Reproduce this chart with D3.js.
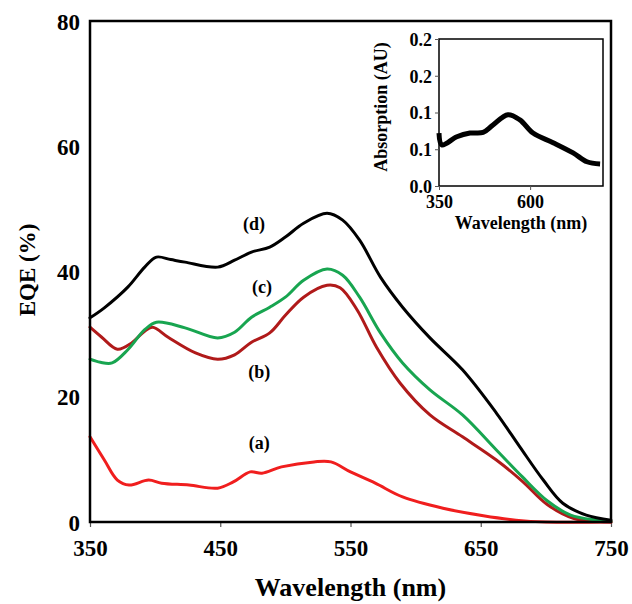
<!DOCTYPE html>
<html lang="en">
<head>
<meta charset="utf-8">
<title>EQE spectra</title>
<script src="https://d3js.org/d3.v7.min.js"></script>
<style type="text/css">
body { margin: 0; background: #fff; }
text { font-family: "Liberation Serif", "Times New Roman", serif; font-weight: bold; fill: #000; }
.curve { fill: none; stroke-width: 3; stroke-linejoin: round; stroke-linecap: round; }
</style>
</head>
<body>
<script type="text/javascript">

// EQE curves (wavelength in nm, EQE in %)
var wlA = [350, 361, 371, 380, 395, 405, 426, 448, 460, 473, 482, 497, 522, 535, 550, 569, 590, 621, 652, 677, 700, 750];
var eqeA = [13.6, 9.9, 6.7, 5.9, 6.7, 6.2, 5.9, 5.4, 6.4, 8.0, 7.8, 8.8, 9.6, 9.6, 8.0, 6.2, 4.0, 2.2, 1.0, 0.3, 0, 0];

var wlB = [350, 359, 371, 382, 391, 398, 410, 431, 448, 461, 474, 488, 500, 514, 532, 542, 555, 570, 588, 611, 636, 662, 682, 701, 721, 740, 750];
var eqeB = [31.1, 29.5, 27.6, 28.6, 30.3, 31.1, 29.5, 27.0, 26.0, 26.7, 28.7, 30.2, 33.0, 35.9, 37.8, 37.4, 33.9, 27.9, 22.2, 17.1, 13.6, 9.9, 6.5, 2.8, 0.6, 0.1, 0];

var wlC = [350, 358, 367, 379, 392, 401, 423, 448, 461, 474, 488, 500, 514, 532, 544, 557, 573, 590, 611, 636, 662, 682, 701, 719, 739, 750];
var eqeC = [26.0, 25.5, 25.4, 27.5, 30.7, 31.9, 31.0, 29.4, 30.3, 32.7, 34.3, 35.9, 38.6, 40.4, 39.4, 35.9, 30.2, 25.4, 21.1, 17.1, 11.5, 7.2, 3.4, 1.1, 0.3, 0.1];

var wlD = [350, 361, 379, 392, 401, 412, 423, 448, 461, 474, 488, 500, 514, 532, 544, 557, 573, 590, 611, 636, 662, 680, 698, 713, 731, 750];
var eqeD = [32.6, 34.2, 37.5, 40.7, 42.3, 41.9, 41.5, 40.7, 41.8, 43.1, 43.9, 45.5, 47.7, 49.3, 48.2, 45.0, 39.1, 34.3, 29.4, 24.3, 17.4, 12.0, 6.7, 3.0, 1.1, 0.3];

// inset absorption spectrum
var wlAbs = [350, 358, 399, 435, 471, 498, 539, 572, 608, 663, 718, 756, 792];
var absVal = [0.072, 0.056, 0.067, 0.072, 0.073, 0.083, 0.097, 0.090, 0.072, 0.059, 0.045, 0.033, 0.030];

var seriesNames = ["(a)", "(b)", "(c)", "(d)"];
var seriesColors = ["#f01e1e", "#b01a1a", "#18a550", "#000000"];

var xTicks = [350, 450, 550, 650, 750];
var yTicks = [0, 20, 40, 60, 80];
var insetXTicks = [350, 600];
var insetYTicks = [0, 0.05, 0.1, 0.15, 0.2];
var insetYLabels = ["0.0", "0.1", "0.1", "0.2", "0.2"];

var W = 632, H = 604;
var svg = d3.select("body").append("svg")
    .attr("width", W)
    .attr("height", H);

// main plot
var x = d3.scaleLinear().domain([350, 750]).range([90, 611]);
var y = d3.scaleLinear().domain([0, 80]).range([522, 21]);

var xAxis = d3.axisBottom(x).tickValues(xTicks).tickSize(5).tickFormat(d3.format("d"));
var yAxis = d3.axisLeft(y).tickValues(yTicks).tickSize(0).tickFormat(d3.format("d"));

var gx = svg.append("g").attr("transform", "translate(0,522)").call(xAxis);
gx.select(".domain").remove();
gx.selectAll("line").attr("stroke", "#555").attr("stroke-width", 1.2);
gx.selectAll("text").attr("font-size", 23).attr("dy", "1.15em").attr("fill", "#000")
    .style("font-family", "Liberation Serif").style("font-weight", "bold");

var gy = svg.append("g").attr("transform", "translate(90,0)").call(yAxis);
gy.select(".domain").remove();
gy.selectAll("text").attr("font-size", 23).attr("x", -10).attr("dy", "0.35em").attr("fill", "#000")
    .style("font-family", "Liberation Serif").style("font-weight", "bold");

var series = [
    { wl: wlA, v: eqeA },
    { wl: wlB, v: eqeB },
    { wl: wlC, v: eqeC },
    { wl: wlD, v: eqeD }
];

var line = d3.line()
    .x(function(d) { return x(d[0]); })
    .y(function(d) { return y(d[1]); })
    .curve(d3.curveCatmullRom.alpha(0.5));

svg.selectAll(".curve")
    .data(series)
    .enter()
    .append("path")
    .attr("class", "curve")
    .attr("stroke", function(d, i) { return seriesColors[i]; })
    .attr("d", function(d) { return line(d3.zip(d.wl, d.v)); });

// frame
svg.append("rect")
    .attr("x", x(350)).attr("y", y(80))
    .attr("width", x(750) - x(350)).attr("height", y(0) - y(80))
    .attr("fill", "none").attr("stroke", "#000").attr("stroke-width", 2.5);

// series labels
var labelPos = [[480, 12.6], [480, 24.0], [482, 37.6], [476, 47.7]];
svg.selectAll(".slabel")
    .data(seriesNames)
    .enter()
    .append("text")
    .attr("class", "slabel")
    .attr("x", function(d, i) { return x(labelPos[i][0]); })
    .attr("y", function(d, i) { return y(labelPos[i][1]); })
    .attr("text-anchor", "middle")
    .attr("dy", "0.35em")
    .attr("font-size", 18)
    .text(function(d) { return d; });

// axis titles
svg.append("text")
    .attr("x", (x(350) + x(750)) / 2).attr("y", 596)
    .attr("text-anchor", "middle")
    .attr("font-size", 26)
    .text("Wavelength (nm)");

svg.append("text")
    .attr("transform", "translate(27,270) rotate(-90)")
    .attr("text-anchor", "middle").attr("dy", "0.35em")
    .attr("font-size", 23)
    .text("EQE (%)");

// inset
var ix = d3.scaleLinear().domain([350, 800]).range([439, 603]);
var iy = d3.scaleLinear().domain([0, 0.2]).range([186, 39]);

var inset = svg.append("g");

inset.append("rect")
    .attr("x", ix(350)).attr("y", iy(0.2))
    .attr("width", ix(800) - ix(350)).attr("height", iy(0) - iy(0.2))
    .attr("fill", "#fff").attr("stroke", "#000").attr("stroke-width", 1.5);

var igx = inset.append("g").attr("transform", "translate(0," + iy(0) + ")")
    .call(d3.axisBottom(ix).tickValues(insetXTicks).tickSize(4).tickFormat(d3.format("d")));
igx.select(".domain").remove();
igx.selectAll("line").attr("stroke", "#555");
igx.selectAll("text").attr("font-size", 18).attr("dy", "0.85em").attr("fill", "#000")
    .style("font-family", "Liberation Serif").style("font-weight", "bold");

var igy = inset.append("g").attr("transform", "translate(" + ix(350) + ",0)")
    .call(d3.axisLeft(iy).tickValues(insetYTicks).tickSize(4)
        .tickFormat(function(d, i) { return insetYLabels[i]; }));
igy.select(".domain").remove();
igy.selectAll("line").attr("stroke", "#555");
igy.selectAll("text").attr("font-size", 18).attr("x", -7).attr("dy", "0.35em").attr("fill", "#000")
    .style("font-family", "Liberation Serif").style("font-weight", "bold");

var iline = d3.line()
    .x(function(d) { return ix(d[0]); })
    .y(function(d) { return iy(d[1]); })
    .curve(d3.curveCatmullRom.alpha(0.5));

inset.append("path")
    .attr("fill", "none").attr("stroke", "#000").attr("stroke-width", 5)
    .attr("stroke-linejoin", "round")
    .attr("d", iline(d3.zip(wlAbs, absVal)));

inset.append("text")
    .attr("x", 521).attr("y", 223)
    .attr("text-anchor", "middle").attr("dy", "0.35em")
    .attr("font-size", 18)
    .text("Wavelength (nm)");

inset.append("text")
    .attr("transform", "translate(381,107) rotate(-90)")
    .attr("text-anchor", "middle").attr("dy", "0.35em")
    .attr("font-size", 18)
    .text("Absorption (AU)");

</script>
</body>
</html>
